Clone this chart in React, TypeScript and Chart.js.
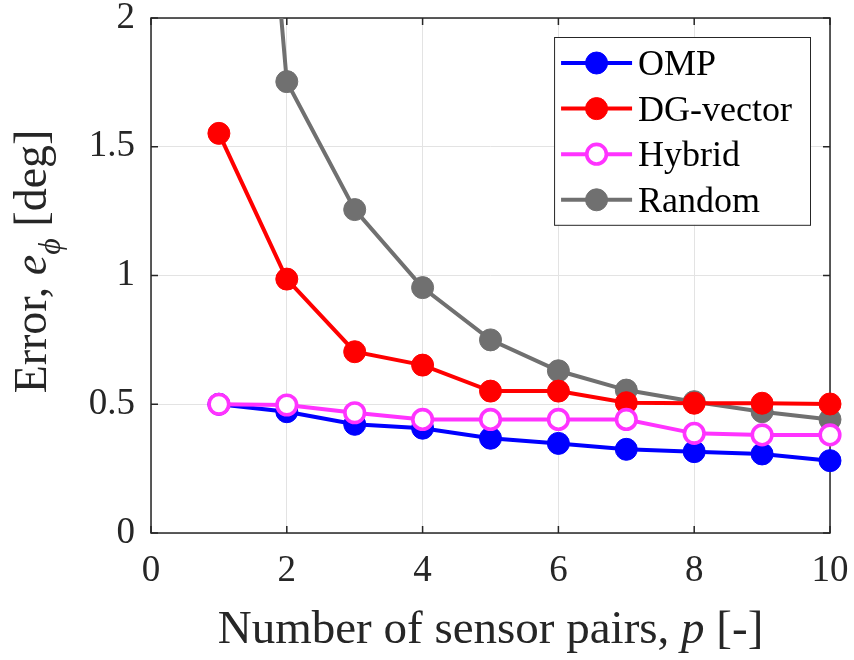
import React, { useEffect, useRef } from 'react';
import { Chart, registerables } from 'chart.js';

Chart.register(...registerables);

// ---- data ----
const sensorPairs = [1, 2, 3, 4, 5, 6, 7, 8, 9, 10];
const ompError = [0.5, 0.471, 0.422, 0.407, 0.368, 0.348, 0.325, 0.316, 0.307, 0.281];
const dgVectorError = [1.552, 0.986, 0.704, 0.652, 0.551, 0.551, 0.506, 0.504, 0.504, 0.501];
const hybridError = [0.5, 0.497, 0.467, 0.441, 0.441, 0.441, 0.441, 0.387, 0.381, 0.381];
const randomError = [4.8, 1.753, 1.256, 0.953, 0.75, 0.63, 0.555, 0.51, 0.471, 0.441];
const xTicks = [0, 2, 4, 6, 8, 10];
const yTicks = [0, 0.5, 1, 1.5, 2];
const seriesLabels = ['OMP', 'DG-vector', 'Hybrid', 'Random'];
const xTitleParts = [
  { text: 'Number of sensor pairs, ', italic: false },
  { text: 'p', italic: true },
  { text: ' [-]', italic: false },
];

const FONT = '"Liberation Serif", "Times New Roman", serif';
const AXIS_COLOR = '#262626';
const GRID_COLOR = '#e3e3e3';

Chart.defaults.font.family = FONT;

const frameAndTicks = {
  id: 'frameAndTicks',
  beforeDatasetsDraw(chart: any) {
    const { ctx, chartArea: a, scales } = chart;
    ctx.save();
    ctx.strokeStyle = AXIS_COLOR;
    ctx.lineWidth = 1.5;
    const len = 7;
    ctx.beginPath();
    xTicks.forEach((v) => {
      const px = scales.x.getPixelForValue(v);
      ctx.moveTo(px, a.bottom);
      ctx.lineTo(px, a.bottom - len);
      ctx.moveTo(px, a.top);
      ctx.lineTo(px, a.top + len);
    });
    yTicks.forEach((v) => {
      const py = scales.y.getPixelForValue(v);
      ctx.moveTo(a.left, py);
      ctx.lineTo(a.left + len, py);
      ctx.moveTo(a.right, py);
      ctx.lineTo(a.right - len, py);
    });
    ctx.stroke();
    ctx.strokeRect(a.left, a.top, a.right - a.left, a.bottom - a.top);
    ctx.restore();
  },
};

const axisTitles = {
  id: 'axisTitles',
  afterDraw(chart: any) {
    const { ctx, chartArea: a } = chart;
    ctx.save();
    ctx.fillStyle = AXIS_COLOR;
    ctx.textBaseline = 'alphabetic';
    ctx.textAlign = 'left';
    const size = 46;
    const normal = `${size}px ${FONT}`;
    const italic = `italic ${size}px ${FONT}`;
    // x title
    const xNormal = `47px ${FONT}`;
    const xItalic = `italic 47px ${FONT}`;
    let total = 0;
    xTitleParts.forEach((p) => {
      ctx.font = p.italic ? xItalic : xNormal;
      total += ctx.measureText(p.text).width;
    });
    let x = (a.left + a.right) / 2 - total / 2;
    const by = a.bottom + 110;
    xTitleParts.forEach((p) => {
      ctx.font = p.italic ? xItalic : xNormal;
      ctx.fillText(p.text, x, by);
      x += ctx.measureText(p.text).width;
    });
    // y title
    const parts = [
      { text: 'Error, ', font: normal, dy: 0 },
      { text: 'e', font: italic, dy: 0 },
      { text: '\u03D5', font: `italic 32px ${FONT}`, dy: 14 },
      { text: ' [deg]', font: normal, dy: 0 },
    ];
    let w = 0;
    parts.forEach((p) => {
      ctx.font = p.font;
      w += ctx.measureText(p.text).width;
    });
    ctx.translate(46, (a.top + a.bottom) / 2 - 14);
    ctx.rotate(-Math.PI / 2);
    let px = -w / 2;
    parts.forEach((p) => {
      ctx.font = p.font;
      ctx.fillText(p.text, px, p.dy);
      px += ctx.measureText(p.text).width;
    });
    ctx.restore();
  },
};

const legendBox = {
  id: 'legendBox',
  afterDraw(chart: any) {
    const { ctx, chartArea: a } = chart;
    const ds = chart.data.datasets;
    ctx.save();
    ctx.font = `36px ${FONT}`;
    const textW = Math.max(...ds.map((d: any) => ctx.measureText(d.label).width));
    const rowH = 45.6;
    const lineStart = 7;
    const lineLen = 71;
    const textOffset = 84;
    const boxW = textOffset + textW + 18;
    const boxH = 26 + rowH * (ds.length - 1) + 25;
    const right = a.right - 20;
    const left = right - boxW;
    const top = a.top + 19;
    ctx.fillStyle = '#ffffff';
    ctx.fillRect(left, top, boxW, boxH);
    ctx.strokeStyle = AXIS_COLOR;
    ctx.lineWidth = 1;
    ctx.strokeRect(left + 0.5, top + 0.5, boxW, boxH);
    ds.forEach((d: any, i: number) => {
      const cy = top + 26 + i * rowH;
      ctx.strokeStyle = d.borderColor;
      ctx.lineWidth = d.borderWidth;
      ctx.beginPath();
      ctx.moveTo(left + lineStart, cy);
      ctx.lineTo(left + lineStart + lineLen, cy);
      ctx.stroke();
      const mx = left + lineStart + lineLen / 2;
      ctx.beginPath();
      ctx.arc(mx, cy, d.pointRadius, 0, Math.PI * 2);
      ctx.fillStyle = d.pointBackgroundColor;
      ctx.fill();
      ctx.lineWidth = d.pointBorderWidth;
      ctx.strokeStyle = d.pointBorderColor;
      ctx.stroke();
      ctx.fillStyle = '#000000';
      ctx.textBaseline = 'alphabetic';
      ctx.textAlign = 'left';
      ctx.fillText(d.label, left + textOffset, cy + 12);
    });
    ctx.restore();
  },
};

function makeSeries(label: string, values: number[], color: string, hollow: boolean, order: number) {
  return {
    label,
    data: sensorPairs.map((p, i) => ({ x: p, y: values[i] })),
    borderColor: color,
    backgroundColor: color,
    borderWidth: 4,
    pointRadius: hollow ? 9.8 : 11,
    pointHoverRadius: hollow ? 9.8 : 11,
    pointBackgroundColor: hollow ? '#ffffff' : color,
    pointBorderColor: color,
    pointBorderWidth: hollow ? 3.6 : 1,
    tension: 0,
    order,
    clip: { left: 20, right: 20, top: 0, bottom: 20 },
  };
}

export default function App() {
  const canvasRef = useRef<HTMLCanvasElement>(null);

  useEffect(() => {
    document.body.style.margin = '0';
    const canvas = canvasRef.current;
    if (!canvas) return;
    const chart = new Chart(canvas, {
      type: 'line',
      data: {
        datasets: [
          makeSeries(seriesLabels[0], ompError, '#0000ff', false, 1),
          makeSeries(seriesLabels[1], dgVectorError, '#ff0000', false, 2),
          makeSeries(seriesLabels[2], hybridError, '#ff33ff', true, 0),
          makeSeries(seriesLabels[3], randomError, '#707070', false, 3),
        ] as any,
      },
      options: {
        responsive: false,
        animation: false,
        devicePixelRatio: 1,
        font: { family: FONT },
        layout: { padding: { top: 18, right: 24, left: 0, bottom: 0 } },
        plugins: {
          legend: { display: false },
          tooltip: { enabled: false },
        },
        scales: {
          x: {
            type: 'linear',
            min: 0,
            max: 10,
            afterBuildTicks: (s: any) => {
              s.ticks = xTicks.map((v) => ({ value: v }));
            },
            afterFit: (s: any) => {
              s.height = 127;
              s.paddingLeft = 0;
              s.paddingRight = 0;
            },
            grid: { color: GRID_COLOR, lineWidth: 1, drawTicks: false },
            border: { display: false },
            ticks: {
              font: { family: FONT, size: 37, style: 'normal', weight: 'normal' },
              color: AXIS_COLOR,
              padding: 16,
              maxRotation: 0,
              callback: (v: any) => String(v),
            },
          },
          y: {
            type: 'linear',
            min: 0,
            max: 2,
            afterBuildTicks: (s: any) => {
              s.ticks = yTicks.map((v) => ({ value: v }));
            },
            afterFit: (s: any) => {
              s.width = 151;
              s.paddingTop = 0;
              s.paddingBottom = 0;
            },
            grid: { color: GRID_COLOR, lineWidth: 1, drawTicks: false },
            border: { display: false },
            ticks: {
              font: { family: FONT, size: 37, style: 'normal', weight: 'normal' },
              color: AXIS_COLOR,
              padding: 16,
              callback: (v: any) => String(v),
            },
          },
        },
      },
      plugins: [frameAndTicks, axisTitles, legendBox],
    });
    return () => chart.destroy();
  }, []);

  return (
    <div style={{ width: 854, height: 660 }}>
      <canvas ref={canvasRef} width={854} height={660} style={{ display: 'block' }} />
    </div>
  );
}
